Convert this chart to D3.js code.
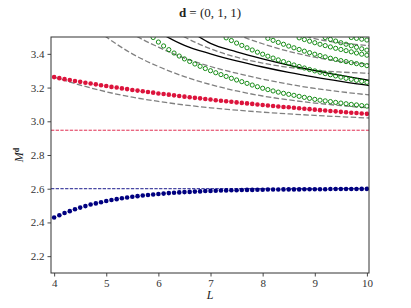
<!DOCTYPE html>
<html>
<head>
<meta charset="utf-8">
<script src="https://cdn.jsdelivr.net/npm/d3@7"></script>
<style>
  body { margin: 0; background: #fff; }
  text { font-family: "Liberation Serif", "DejaVu Serif", serif; }
</style>
</head>
<body>
<svg id="chart" width="411" height="308"></svg>
<script>
// sample sizes L (data points every 0.1)
const sizes = [4.0,4.1,4.2,4.3,4.4,4.5,4.6,4.7,4.8,4.9,5.0,5.1,5.2,5.3,5.4,5.5,5.6,5.7,5.8,5.9,
  6.0,6.1,6.2,6.3,6.4,6.5,6.6,6.7,6.8,6.9,7.0,7.1,7.2,7.3,7.4,7.5,7.6,7.7,7.8,7.9,
  8.0,8.1,8.2,8.3,8.4,8.5,8.6,8.7,8.8,8.9,9.0,9.1,9.2,9.3,9.4,9.5,9.6,9.7,9.8,9.9,10.0];

const redLevel = [3.262,3.256,3.250,3.245,3.239,3.234,3.229,3.224,3.219,3.214,3.209,3.204,3.200,3.195,3.191,3.186,3.182,3.178,3.174,3.170,
  3.165,3.162,3.158,3.154,3.150,3.146,3.143,3.139,3.136,3.132,3.129,3.125,3.122,3.119,3.116,3.112,3.109,3.106,3.103,3.100,
  3.097,3.094,3.091,3.088,3.085,3.083,3.080,3.077,3.074,3.072,3.069,3.066,3.064,3.061,3.059,3.056,3.054,3.051,3.049,3.046,3.044];

const blueLevel = [2.429,2.443,2.456,2.467,2.478,2.488,2.497,2.506,2.513,2.520,2.527,2.533,2.538,2.543,2.548,2.552,2.556,2.560,2.563,2.566,
  2.569,2.571,2.574,2.576,2.578,2.580,2.581,2.583,2.584,2.586,2.587,2.588,2.589,2.590,2.591,2.591,2.592,2.593,2.593,2.594,
  2.594,2.595,2.595,2.595,2.596,2.596,2.596,2.596,2.597,2.597,2.597,2.597,2.597,2.598,2.598,2.598,2.598,2.598,2.598,2.599,2.599];

// open green levels (null = above the plotted window)
const N = null;
const greenA = [N,N,N,N,N,N,N,N,N,N,N,N,N,N,N,N,N,N,N,3.497,
  3.470,3.447,3.425,3.405,3.387,3.370,3.355,3.340,3.326,3.313,3.300,3.288,3.277,3.266,3.255,3.245,3.235,3.225,3.215,3.205,
  3.196,3.188,3.180,3.173,3.166,3.160,3.154,3.148,3.142,3.136,3.130,3.125,3.121,3.117,3.112,3.108,3.104,3.100,3.097,3.093,3.090];
const greenB = [N,N,N,N,N,N,N,N,N,N,N,N,N,N,N,N,N,N,N,N,
  N,N,N,N,N,N,N,N,N,N,N,N,N,3.495,3.479,3.464,3.450,3.436,3.423,3.410,
  3.398,3.386,3.375,3.364,3.354,3.344,3.334,3.325,3.316,3.307,3.299,3.291,3.283,3.276,3.269,3.262,3.255,3.249,3.243,3.237,3.231];
const greenC = [N,N,N,N,N,N,N,N,N,N,N,N,N,N,N,N,N,N,N,N,
  N,N,N,N,N,N,N,N,N,N,N,N,N,N,N,N,N,N,N,N,
  N,3.492,3.480,3.468,3.457,3.446,3.436,3.426,3.416,3.407,3.398,3.390,3.382,3.374,3.367,3.360,3.354,3.348,3.342,3.336,3.330];
const greenD = [N,N,N,N,N,N,N,N,N,N,N,N,N,N,N,N,N,N,N,N,
  N,N,N,N,N,N,N,N,N,N,N,N,N,N,N,N,N,N,N,N,
  N,N,N,N,N,N,N,3.495,3.485,3.475,3.466,3.457,3.449,3.441,3.433,3.426,3.419,3.412,3.405,3.398,3.392];
const greenE = [N,N,N,N,N,N,N,N,N,N,N,N,N,N,N,N,N,N,N,N,
  N,N,N,N,N,N,N,N,N,N,N,N,N,N,N,N,N,N,N,N,
  N,N,N,N,N,N,N,N,N,N,N,N,3.497,3.486,3.476,3.466,3.457,3.448,3.439,3.430,3.422];
const greenF = [N,N,N,N,N,N,N,N,N,N,N,N,N,N,N,N,N,N,N,N,
  N,N,N,N,N,N,N,N,N,N,N,N,N,N,N,N,N,N,N,N,
  N,N,N,N,N,N,N,N,N,N,N,N,N,N,N,N,N,3.497,3.492,3.487,3.482];

// fitted curves on a coarse grid
const fitSizes = [4.0,4.5,5.0,5.5,6.0,6.5,7.0,7.5,8.0,8.5,9.0,9.5,10.0,10.5];
const grayFits = [
  [3.262,3.215,3.175,3.143,3.118,3.097,3.080,3.066,3.054,3.044,3.035,3.027,3.020,3.014],
  [3.80,3.62,3.50,3.40,3.325,3.265,3.218,3.180,3.150,3.127,3.108,3.093,3.080,3.070],
  [4.00,3.80,3.64,3.52,3.44,3.375,3.325,3.285,3.250,3.220,3.195,3.175,3.158,3.145],
  [4.30,4.05,3.85,3.70,3.59,3.50,3.430,3.380,3.345,3.320,3.302,3.292,3.285,3.280],
  [4.50,4.25,4.05,3.89,3.76,3.66,3.58,3.515,3.460,3.415,3.380,3.355,3.340,3.330],
  [4.70,4.45,4.25,4.08,3.94,3.83,3.74,3.66,3.59,3.535,3.490,3.465,3.450,3.440]
];
const blackFits = [
  [4.30,4.00,3.80,3.63,3.53,3.450,3.400,3.358,3.322,3.290,3.262,3.237,3.214,3.194],
  [4.60,4.25,4.00,3.82,3.68,3.560,3.462,3.412,3.370,3.333,3.301,3.272,3.246,3.224]
];

const redLimit = 2.947;
const blueLimit = 2.6;
const xTicks = [4,5,6,7,8,9,10];
const yTicks = [2.2,2.4,2.6,2.8,3.0,3.2,3.4];

const svg = d3.select("#chart");
const margin = {top: 37, left: 51, right: 42, bottom: 35};
const width = 411 - margin.left - margin.right;
const height = 308 - margin.top - margin.bottom;

const x = d3.scaleLinear().domain([3.94, 10.04]).range([0, width]);
const y = d3.scaleLinear().domain([2.1, 3.5]).range([height, 0]);

svg.append("defs").append("clipPath").attr("id", "plotClip")
   .append("rect").attr("width", width).attr("height", height);

const g = svg.append("g").attr("transform", `translate(${margin.left},${margin.top})`);
const plot = g.append("g").attr("clip-path", "url(#plotClip)");

const fitLine = d3.line()
  .x((d, i) => x(fitSizes[i]))
  .y(d => y(d))
  .curve(d3.curveMonotoneX);

grayFits.forEach(f => {
  plot.append("path").attr("d", fitLine(f))
      .attr("fill", "none").attr("stroke", "#808080")
      .attr("stroke-width", 1.3).attr("stroke-dasharray", "5.5,2.4");
});
blackFits.forEach(f => {
  plot.append("path").attr("d", fitLine(f))
      .attr("fill", "none").attr("stroke", "#000")
      .attr("stroke-width", 1.3);
});

plot.append("line").attr("x1", 0).attr("x2", width)
    .attr("y1", y(redLimit)).attr("y2", y(redLimit))
    .attr("stroke", "crimson").attr("stroke-width", 0.9).attr("stroke-dasharray", "3.3,1.4");
plot.append("line").attr("x1", 0).attr("x2", width)
    .attr("y1", y(blueLimit)).attr("y2", y(blueLimit))
    .attr("stroke", "navy").attr("stroke-width", 0.9).attr("stroke-dasharray", "3.3,1.4");

[greenA, greenB, greenC, greenD, greenE, greenF].forEach(series => {
  plot.append("g").selectAll("circle")
    .data(series.map((v, i) => [sizes[i], v]).filter(d => d[1] !== null))
    .join("circle")
    .attr("cx", d => x(d[0])).attr("cy", d => y(d[1])).attr("r", 2.1)
    .attr("fill", "none").attr("stroke", "green").attr("stroke-width", 0.9);
});

plot.append("g").selectAll("circle")
  .data(redLevel.map((v, i) => [sizes[i], v]))
  .join("circle")
  .attr("cx", d => x(d[0])).attr("cy", d => y(d[1])).attr("r", 2.3)
  .attr("fill", "crimson");

plot.append("g").selectAll("circle")
  .data(blueLevel.map((v, i) => [sizes[i], v]))
  .join("circle")
  .attr("cx", d => x(d[0])).attr("cy", d => y(d[1])).attr("r", 2.3)
  .attr("fill", "navy");

// axes
const xAxis = g.append("g").attr("transform", `translate(0,${height})`)
  .call(d3.axisBottom(x).tickValues(xTicks).tickSize(3.5).tickPadding(3).tickFormat(d3.format("d")));
const yAxis = g.append("g")
  .call(d3.axisLeft(y).tickValues(yTicks).tickSize(3.5).tickPadding(3).tickFormat(d3.format(".1f")));
[xAxis, yAxis].forEach(a => {
  a.select(".domain").remove();
  a.selectAll("line").attr("stroke", "#333").attr("stroke-width", 0.9);
  a.selectAll("text").attr("fill", "#333").style("font-size", "11px")
   .style("font-family", "'Liberation Serif', serif");
});

g.append("rect").attr("width", width).attr("height", height)
  .attr("fill", "none").attr("stroke", "#333").attr("stroke-width", 1);

// title and labels
const title = svg.append("text").attr("x", margin.left + width / 2).attr("y", 17)
  .attr("text-anchor", "middle").style("font-size", "13px").attr("fill", "#222");
title.append("tspan").attr("font-weight", "bold").text("d");
title.append("tspan").text(" = (0, 1, 1)");

svg.append("text").attr("x", margin.left + width / 2).attr("y", 299)
  .attr("text-anchor", "middle").style("font-size", "12px").style("font-style", "italic")
  .attr("fill", "#222").text("L");

const ylab = svg.append("text")
  .attr("transform", `translate(23,${margin.top + height / 2}) rotate(-90)`)
  .attr("text-anchor", "middle").style("font-size", "12px").attr("fill", "#222");
ylab.append("tspan").style("font-style", "italic").text("M");
ylab.append("tspan").attr("font-weight", "bold").attr("dy", -4).style("font-size", "8px").text("d");
</script>
</body>
</html>
